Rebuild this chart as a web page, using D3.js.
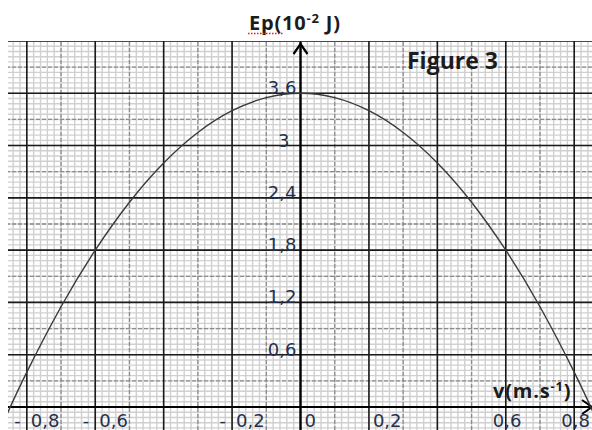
<!DOCTYPE html>
<html>
<head>
<meta charset="utf-8">
<script src="https://cdn.jsdelivr.net/npm/d3@7"></script>
<style>
  body { margin: 0; background: #fff; }
  svg { display: block; }
  .tick-label { font-family: "DejaVu Sans", sans-serif; font-size: 18px; fill: #26304a; }
  .title { font-family: "Open Sans", sans-serif; font-weight: bold; fill: #1c1c1c; }
</style>
</head>
<body>
<div id="chart"></div>
<script>
// vitesse v (m/s) et énergie potentielle Ep (10^-2 J)
const vValues = [-0.86, -0.8, -0.7, -0.6, -0.5, -0.4, -0.3, -0.2, -0.1, 0, 0.1, 0.2, 0.3, 0.4, 0.5, 0.6, 0.7, 0.8, 0.86];
const epValues = [-0.1, 0.4, 1.15, 1.8, 2.35, 2.8, 3.15, 3.4, 3.55, 3.6, 3.55, 3.4, 3.15, 2.8, 2.35, 1.8, 1.15, 0.4, -0.1];

// graduations
const xTickValues = [-0.8, -0.6, -0.2, 0, 0.2, 0.6, 0.8];
const xTickLabels = ["0,8", "0,6", "0,2", "0", "0,2", "0,6", "0,8"];
const yTickValues = [0.6, 1.2, 1.8, 2.4, 3, 3.6];
const yTickLabels = ["0,6", "1,2", "1,8", "2,4", "3", "3,6"];

const width = 592, height = 430;

const svg = d3.select("#chart").append("svg")
    .attr("width", width)
    .attr("height", height);

const x = d3.scaleLinear().domain([-0.855, 0.852]).range([8, 592]);
const y = d3.scaleLinear().domain([-0.264, 4.2]).range([430, 41]);

svg.append("clipPath").attr("id", "plot-clip")
    .append("rect")
    .attr("x", x(-0.855)).attr("y", y(4.2))
    .attr("width", x(0.852) - x(-0.855)).attr("height", y(-0.264) - y(4.2) + 1);

const grid = svg.append("g").attr("clip-path", "url(#plot-clip)");

// papier millimétré : petits carreaux
const xMinor = d3.range(-43, 44).map(i => i * 0.02);
const yMinor = d3.range(-5, 71).map(i => i * 0.06);
const xMid = d3.range(-9, 10).map(i => i * 0.1).filter(d => Math.round(d * 10) % 2 !== 0);
const yMid = d3.range(-1, 14).map(i => i * 0.3).filter(d => Math.round(d * 10) % 6 !== 0);
const xMajor = d3.range(-4, 5).map(i => i * 0.2);
const yMajor = d3.range(0, 8).map(i => i * 0.6);

grid.selectAll(".vminor").data(xMinor).enter().append("line")
    .attr("x1", d => x(d)).attr("x2", d => x(d))
    .attr("y1", 0).attr("y2", height)
    .attr("stroke", "#d0d0d0").attr("stroke-width", 1.4);
grid.selectAll(".hminor").data(yMinor).enter().append("line")
    .attr("x1", 0).attr("x2", width)
    .attr("y1", d => y(d)).attr("y2", d => y(d))
    .attr("stroke", "#d0d0d0").attr("stroke-width", 1.4);

grid.selectAll(".vmid").data(xMid).enter().append("line")
    .attr("x1", d => x(d)).attr("x2", d => x(d))
    .attr("y1", 0).attr("y2", height)
    .attr("stroke", "#8c8c8c").attr("stroke-width", 1.3).attr("stroke-dasharray", "4,2");
grid.selectAll(".hmid").data(yMid).enter().append("line")
    .attr("x1", 0).attr("x2", width)
    .attr("y1", d => y(d)).attr("y2", d => y(d))
    .attr("stroke", "#8c8c8c").attr("stroke-width", 1.3).attr("stroke-dasharray", "4,2");

grid.selectAll(".vmajor").data(xMajor).enter().append("line")
    .attr("x1", d => x(d)).attr("x2", d => x(d))
    .attr("y1", 0).attr("y2", height)
    .attr("stroke", "#1a1a1a").attr("stroke-width", 1.6);
grid.selectAll(".hmajor").data(yMajor).enter().append("line")
    .attr("x1", 0).attr("x2", width)
    .attr("y1", d => y(d)).attr("y2", d => y(d))
    .attr("stroke", "#1a1a1a").attr("stroke-width", 1.6);

// axes
svg.append("line")
    .attr("x1", x(-0.855)).attr("x2", width)
    .attr("y1", y(0)).attr("y2", y(0))
    .attr("stroke", "#000").attr("stroke-width", 2.2);
svg.append("line")
    .attr("x1", x(0)).attr("x2", x(0))
    .attr("y1", y(4.2) + 1).attr("y2", height)
    .attr("stroke", "#000").attr("stroke-width", 2.2);

// flèches
svg.append("path")
    .attr("d", `M${x(0) - 7},${y(4.2) + 13} L${x(0)},${y(4.2) + 3} L${x(0) + 7},${y(4.2) + 13}`)
    .attr("fill", "none").attr("stroke", "#000").attr("stroke-width", 2.2);
svg.append("path")
    .attr("d", `M${width - 10},${y(0) - 7} L${width},${y(0)} L${width - 10},${y(0) + 7}`)
    .attr("fill", "none").attr("stroke", "#000").attr("stroke-width", 2);

// courbe Ep = f(v)
const line = d3.line()
    .x((d, i) => x(vValues[i]))
    .y(d => y(d))
    .curve(d3.curveNatural);

svg.append("path")
    .datum(epValues)
    .attr("clip-path", "url(#plot-clip)")
    .attr("d", line)
    .attr("fill", "none")
    .attr("stroke", "#3a3a3a")
    .attr("stroke-width", 1.4);

// étiquettes de l'axe des ordonnées
svg.selectAll(".ylab").data(yTickValues).enter().append("text")
    .attr("class", "tick-label")
    .attr("x", d => d === 3 ? x(0) - 11 : x(0) - 4)
    .attr("y", d => y(d) + 1)
    .attr("text-anchor", "end")
    .text((d, i) => yTickLabels[i]);

// étiquettes de l'axe des abscisses
const xl = svg.selectAll(".xlab").data(xTickValues).enter().append("g");
xl.append("text")
    .attr("class", "tick-label")
    .attr("x", d => d >= 0.5 ? x(d) - 13 : x(d) + 4)
    .attr("y", y(0) + 20)
    .text((d, i) => xTickLabels[i]);
xl.filter(d => d < 0).append("text")
    .attr("class", "tick-label")
    .attr("x", d => x(d) - 6)
    .attr("y", y(0) + 20)
    .attr("text-anchor", "end")
    .text("-");

// titres
const ep = svg.append("text")
    .attr("class", "title")
    .attr("x", 249).attr("y", 30)
    .attr("font-size", 20)
    .attr("letter-spacing", 0.8);
ep.append("tspan").text("Ep(10");
ep.append("tspan").attr("font-size", 13).attr("dy", -7).text("-2");
ep.append("tspan").attr("dy", 7).text("  J)");
svg.append("line")
    .attr("x1", 248).attr("x2", 283)
    .attr("y1", 33.5).attr("y2", 33.5)
    .attr("stroke", "#e02020").attr("stroke-width", 1.3).attr("stroke-dasharray", "1.5,1.5");

svg.append("text")
    .attr("class", "title")
    .attr("x", 407).attr("y", 69)
    .attr("font-size", 23)
    .attr("fill", "#000")
    .text("Figure 3");

const vt = svg.append("text")
    .attr("class", "title")
    .attr("x", 493).attr("y", 398)
    .attr("font-size", 20)
    .attr("letter-spacing", 0.8);
vt.append("tspan").text("v(m.s");
vt.append("tspan").attr("font-size", 13).attr("dy", -7).text("-1");
vt.append("tspan").attr("dy", 7).text(")");
</script>
</body>
</html>
